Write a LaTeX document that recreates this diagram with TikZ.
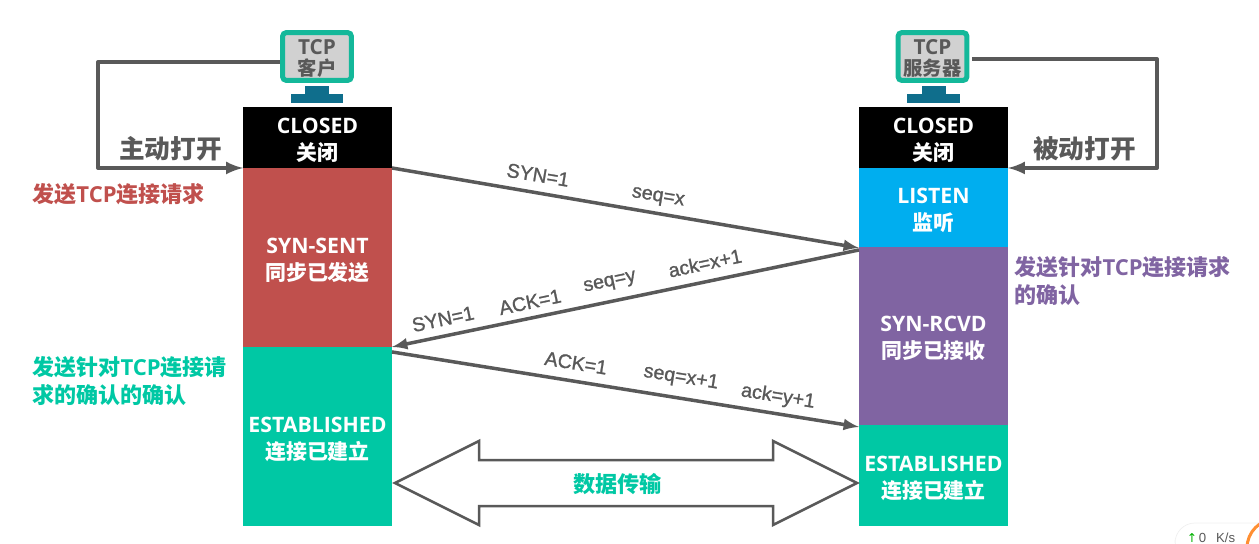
\documentclass[tikz,border=0pt]{standalone}
\usepackage{fontspec}
\setmainfont{Open Sans}
\newfontfamily\cjk{Noto Sans CJK SC}
\newfontfamily\arial{Liberation Sans}
\newfontfamily\arialheavy[FakeBold=1.2]{Liberation Sans}
\newfontfamily\symb{DejaVu Sans}
\usetikzlibrary{arrows}
\usetikzlibrary{positioning}

\definecolor{flowgray}{HTML}{595959}
\definecolor{stateblue}{HTML}{00AEEF}
\definecolor{statered}{HTML}{C0504D}
\definecolor{stateteal}{HTML}{00C8A4}
\definecolor{statepurple}{HTML}{8064A2}
\definecolor{monitorteal}{HTML}{14B89A}
\definecolor{standblue}{HTML}{0F6E8C}

\newcommand{\statetext}[2]{\rule{0pt}{11.8pt}#1\\{\fontsize{11.9}{15.3}\selectfont\cjk #2}}
\newcommand{\monitortext}[1]{\rule{0pt}{10.4pt}{\fontsize{11.8}{12}\selectfont TCP}\\{\cjk #1}}

\tikzset{
    state/.style={minimum width=2.98cm, inner sep=0pt, outer sep=0pt, text=white, align=center,
        font=\fontsize{12.1}{15.3}\selectfont\bfseries},
    monitor/.style={draw=monitorteal, line width=0.1cm, fill=black!18, rounded corners=0.08cm,
        minimum width=1.38cm, minimum height=0.96cm, inner sep=0pt, text=flowgray, align=center,
        font=\fontsize{11}{12}\selectfont\bfseries},
    neck/.style={fill=standblue, minimum width=0.48cm, minimum height=0.16cm, inner sep=0pt, outer sep=0pt},
    base/.style={fill=standblue, minimum width=1.06cm, minimum height=0.18cm, inner sep=0pt, outer sep=0pt},
    flow/.style={draw=flowgray, line width=0.08cm, line join=round, -latex},
    segment/.style={draw=flowgray, line width=0.07cm, -latex},
    seqlabel/.style={text=flowgray, inner sep=0pt, font=\fontsize{11.2}{13}\selectfont\arialheavy},
    openlabel/.style={text=flowgray, inner sep=0pt, font=\fontsize{14.6}{16}\selectfont\bfseries\cjk},
    note/.style={inner sep=0pt, align=left, anchor=west, font=\fontsize{12.55}{16.4}\selectfont\bfseries},
}

\begin{document}
\begin{tikzpicture}[x=0.02cm, y=-0.02cm]
    \useasboundingbox (0,0) rectangle (1259,544);

    % left column
    \node[state, fill=black, minimum height=1.22cm, anchor=north] (closedL) at (317.5,107) {\statetext{CLOSED}{关闭}};
    \node[state, fill=statered, minimum height=3.58cm, below=0pt of closedL] (synSent) {\statetext{SYN-SENT}{同步已发送}};
    \node[state, fill=stateteal, minimum height=3.58cm, below=0pt of synSent] (estL) {\statetext{ESTABLISHED}{连接已建立}};

    % right column
    \node[state, fill=black, minimum height=1.22cm, anchor=north] (closedR) at (933.5,107) {\statetext{CLOSED}{关闭}};
    \node[state, fill=stateblue, minimum height=1.58cm, below=0pt of closedR] (listen) {\statetext{LISTEN}{监听}};
    \node[state, fill=statepurple, minimum height=3.56cm, below=0pt of listen] (synRcvd) {\statetext{SYN-RCVD}{同步已接收}};
    \node[state, fill=stateteal, minimum height=2.02cm, below=0pt of synRcvd] (estR) {\statetext{ESTABLISHED}{连接已建立}};

    % monitors
    \node[monitor] (client) at (317,56.5) {\monitortext{客户}};
    \node[neck, anchor=north] (neckL) at (317,86) {};
    \node[base, below=0pt of neckL] (baseL) {};
    \node[monitor] (server) at (932.5,56.5) {\monitortext{服务器}};
    \node[neck, anchor=north] (neckR) at (933.5,86) {};
    \node[base, below=0pt of neckR] (baseR) {};

    % open loops
    \coordinate (loopL) at (98,62);
    \coordinate (loopR) at (1157,59);
    \draw[flow] (client.west |- loopL) -- (loopL) |- (closedL.south west);
    \draw[flow] ([xshift=0.06cm]server.east |- loopR) -- (loopR) |- (closedR.south east);
    \node[openlabel] (activeOpen) at (170.5,149) {主动打开};
    \node[openlabel] (passiveOpen) at (1084.5,149) {被动打开};

    % handshake
    \draw[segment] (closedL.south east) -- ([yshift=-0.02cm]listen.south west);
    \draw[segment] ([yshift=-0.06cm]synRcvd.north west) -- (synSent.south east);
    \draw[segment] ([yshift=-0.1cm]estL.north east) -- ([yshift=-0.04cm]estR.north west);

    \node[seqlabel, rotate=-9.4] (syn1) at (538,175) {SYN=1};
    \node[seqlabel, rotate=-9.4] (seq1) at (658,198) {seq=x};
    \node[seqlabel, rotate=12] (syn2) at (443,319) {SYN=1};
    \node[seqlabel, rotate=12] (ack2) at (530,302) {ACK=1};
    \node[seqlabel, rotate=12] (seq2) at (610,283) {seq=y};
    \node[seqlabel, rotate=12] (ackn2) at (705,263) {ack=x+1};
    \node[seqlabel, rotate=-9.1] (ack3) at (576,363) {ACK=1};
    \node[seqlabel, rotate=-9.1] (seq3) at (681,378) {seq=x+1};
    \node[seqlabel, rotate=-9.1] (ackn3) at (778,397) {ack=y+1};

    % data transfer
    \draw[draw=flowgray, line width=0.05cm, line join=miter] (395,483) -- (479,441) -- (479,460) -- (773,460)
        -- (773,441) -- (857,483) -- (773,525) -- (773,506) -- (479,506) -- (479,525) -- cycle;
    \node[inner sep=0pt, text=stateteal, font=\fontsize{12.6}{14}\selectfont\bfseries\cjk] (transfer) at (617.5,484) {数据传输};

    % notes
    \node[note, text=statered] (noteSyn) at (32,194) {{\cjk 发送}TCP{\cjk 连接请求}};
    \node[note, text=statepurple] (noteSynAck) at (1014,281) {{\cjk 发送针对}TCP{\cjk 连接请求}\\{\cjk 的确认}};
    \node[note, text=stateteal] (noteAck) at (32,381) {{\cjk 发送针对}TCP{\cjk 连接请}\\{\cjk 求的确认的确认}};

    % speed widget
    \draw[draw=black!6, fill=white, rounded corners=0.4cm] (1175,560) rectangle (1290,523);
    \node[inner sep=0pt, text=green!70!black, font=\fontsize{7}{8}\selectfont\symb] (speedUp) at (1192,537.5) {↑};
    \node[inner sep=0pt, text=black!65, font=\fontsize{7.5}{8}\selectfont\arial] (speed) at (1217,537.5) {0\hspace{0.2cm}K/s};
    \draw[draw=orange!90!red!80, fill=white, line width=0.06cm] (1276,548) circle[radius=0.58cm];
\end{tikzpicture}
\end{document}
